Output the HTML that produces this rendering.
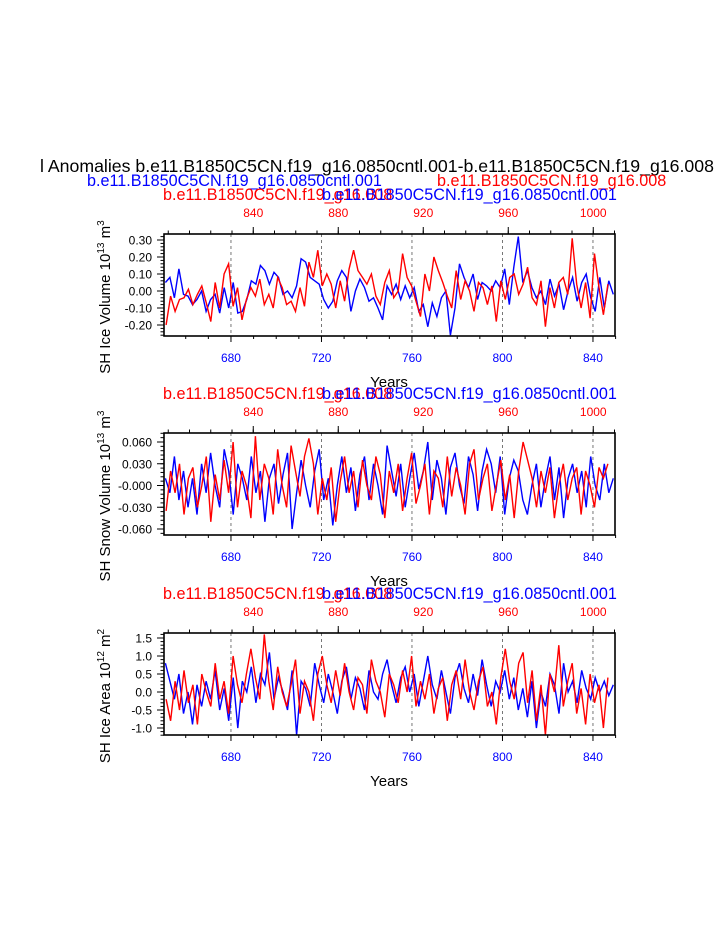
<!DOCTYPE html>
<html><head><meta charset="utf-8"><style>
html,body{margin:0;padding:0;background:#fff;}
svg{display:block;font-family:"Liberation Sans",Helvetica,sans-serif;}
</style></head><body>
<svg id="chart" width="723" height="935" viewBox="0 0 723 935" xmlns="http://www.w3.org/2000/svg">
<text x="40" y="172" font-size="17.7" fill="#000">l Anomalies b.e11.B1850C5CN.f19_g16.0850cntl.001-b.e11.B1850C5CN.f19_g16.008</text>
<text x="87" y="186" font-size="16.2" fill="#0000ff">b.e11.B1850C5CN.f19_g16.0850cntl.001</text>
<text x="437" y="186" font-size="16.2" fill="#ff0000">b.e11.B1850C5CN.f19_g16.008</text>
</svg>
<script>
const blueYears0=651, blueStep=2, redYears0=799, redStep=2.1;
const topTicks=[840,880,920,960,1000];
const bottomTicks=[680,720,760,800,840];
const iceVolBlue=[0.05,0.08,-0.04,0.13,-0.02,-0.03,-0.08,-0.05,0.0,-0.12,-0.05,-0.02,-0.13,0.02,-0.10,0.05,-0.13,-0.12,-0.05,0.06,0.04,0.15,0.12,0.04,0.11,0.08,-0.02,0.0,-0.04,0.03,0.19,0.17,0.08,0.06,0.04,-0.05,-0.10,-0.06,0.06,0.12,0.08,-0.12,0.0,0.07,0.02,-0.06,-0.04,-0.10,-0.17,0.03,-0.02,0.04,-0.05,0.03,-0.04,0.02,-0.12,-0.08,-0.21,-0.07,-0.15,-0.04,0.0,-0.26,-0.10,0.16,0.08,0.02,0.10,-0.05,0.05,0.03,0.00,0.06,0.02,0.13,-0.08,0.14,0.32,0.05,0.12,0.02,-0.04,0.00,-0.08,0.07,-0.03,0.04,-0.11,0.00,0.08,-0.06,0.05,0.10,-0.04,-0.12,0.08,-0.10,0.06,-0.02];
const iceVolRed=[-0.20,-0.03,-0.12,-0.05,-0.04,0.01,-0.08,-0.02,0.03,-0.07,-0.18,0.05,-0.10,0.10,0.16,-0.09,0.02,-0.17,-0.05,0.02,-0.03,0.07,-0.08,-0.02,-0.10,0.08,0.02,-0.08,-0.06,-0.12,0.02,-0.09,0.17,0.08,0.24,0.03,0.10,0.04,-0.10,0.06,-0.06,0.13,0.24,0.12,0.08,0.04,0.10,-0.03,-0.08,0.05,0.12,-0.04,0.00,0.22,0.08,0.03,-0.06,-0.15,0.10,0.00,0.20,0.12,0.05,-0.03,-0.10,0.12,-0.05,0.06,0.00,-0.12,0.05,0.02,-0.08,0.03,-0.18,0.06,-0.05,0.08,0.10,-0.02,0.04,0.14,-0.04,-0.08,0.06,-0.21,0.02,-0.10,0.05,0.08,-0.02,0.31,0.04,-0.10,0.05,-0.16,0.22,0.02,-0.14,0.04];
const snowBlue=[0.010,-0.010,0.040,-0.020,0.020,-0.030,0.010,-0.040,0.030,-0.010,0.045,0.000,-0.030,0.050,0.020,-0.040,0.030,0.010,-0.020,0.040,-0.010,0.020,-0.050,0.010,0.030,-0.025,0.015,0.045,-0.060,-0.010,0.035,0.000,-0.030,0.020,0.050,-0.020,0.010,-0.055,0.000,0.040,-0.010,0.025,-0.035,0.015,0.040,-0.020,0.030,0.000,-0.040,0.055,0.020,-0.015,0.030,-0.030,0.010,0.045,-0.005,0.020,0.060,-0.020,0.035,0.010,-0.040,0.025,0.045,0.000,-0.025,0.040,0.015,-0.035,0.020,0.050,0.030,-0.010,0.040,-0.040,0.010,0.035,0.020,-0.020,-0.040,0.000,0.030,-0.030,0.010,0.040,-0.020,0.025,-0.045,0.010,0.030,-0.010,0.020,-0.030,0.040,0.000,-0.020,0.030,-0.010,0.010];
const snowRed=[-0.035,0.020,-0.010,0.030,-0.040,0.010,0.025,-0.030,0.000,0.040,-0.050,0.015,-0.020,0.035,-0.010,0.060,-0.030,0.020,0.000,-0.045,0.068,-0.020,0.030,0.010,-0.040,0.050,0.000,-0.030,0.055,0.020,-0.015,0.040,0.065,0.030,-0.040,0.010,-0.020,0.025,-0.050,0.005,0.040,-0.010,0.020,-0.030,0.035,0.000,-0.020,0.040,0.015,-0.045,0.020,-0.010,0.030,-0.035,0.010,0.045,-0.025,0.000,0.030,-0.040,0.020,0.010,-0.030,0.040,-0.015,0.025,0.000,-0.040,0.030,0.050,-0.020,0.010,0.030,-0.035,0.000,0.035,-0.020,0.015,-0.045,0.020,0.060,0.035,0.010,-0.030,0.020,-0.010,0.025,-0.045,0.000,0.030,-0.020,0.010,0.025,-0.040,0.020,0.000,-0.030,0.025,0.010,0.030];
const areaBlue=[0.8,0.3,-0.2,0.5,-0.6,0.0,-0.9,0.2,-0.4,0.3,-0.2,0.6,-0.5,0.1,-0.8,0.4,-1.0,0.3,0.0,0.7,-0.3,0.5,0.2,1.1,-0.2,0.4,0.0,-0.5,0.6,-1.2,0.3,0.1,-0.4,0.8,0.2,-0.3,0.5,0.0,-0.6,0.3,0.7,-0.2,0.4,0.1,-0.5,0.6,0.0,-0.2,0.5,0.9,0.2,-0.3,0.4,0.7,0.0,0.5,-0.4,0.3,1.0,0.2,-0.2,0.6,0.0,-0.6,0.4,0.8,0.1,-0.3,0.5,-0.1,0.9,0.2,-0.4,0.3,0.0,0.6,-0.2,0.4,-0.5,0.1,-0.7,0.3,-1.0,0.0,-0.4,0.5,0.2,-0.6,0.8,0.0,0.3,-0.3,0.6,0.1,-0.2,0.4,0.0,0.3,-0.1,0.2];
const areaRed=[-0.2,-0.8,0.3,-0.5,0.6,-0.3,0.2,-0.9,0.5,0.0,-0.4,0.8,-0.2,0.3,-0.6,1.0,0.2,-0.3,0.5,1.2,0.4,-0.2,1.6,0.3,-0.5,0.7,0.0,-0.4,0.2,0.9,-0.6,0.3,0.0,-0.8,0.5,1.0,0.2,-0.3,0.6,-0.1,0.8,0.0,-0.5,0.4,0.2,-0.6,0.9,0.3,0.0,-0.7,0.5,0.2,-0.3,0.6,0.0,1.0,-0.4,0.3,-0.2,0.5,-0.6,0.1,0.4,-0.8,0.2,0.6,-0.2,0.9,0.0,-0.5,0.3,0.7,-0.4,0.0,-0.9,0.4,1.2,0.3,-0.2,0.8,1.1,-0.3,0.6,-0.8,0.2,-1.2,0.5,0.0,1.3,-0.4,0.3,0.8,-0.6,0.1,-0.9,0.5,-0.3,0.2,-1.0,0.4];
const yTicks1=[0.30,0.20,0.10,0.00,-0.10,-0.20], yLabels1=["0.30","0.20","0.10","0.00","-0.10","-0.20"];
const yTicks2=[0.06,0.03,0,-0.03,-0.06], yLabels2=["0.060","0.030","-0.000","-0.030","-0.060"];
const yTicks3=[1.5,1.0,0.5,0,-0.5,-1.0], yLabels3=["1.5","1.0","0.5","0.0","-0.5","-1.0"];

const NS="http://www.w3.org/2000/svg";
const svg=document.getElementById('chart');
function mk(t,a,p){const e=document.createElementNS(NS,t);for(const k in a)e.setAttribute(k,a[k]);(p||svg).appendChild(e);return e;}
const X0=164,X1=615;
const xBlue=yr=>X0+(yr-650.4)*2.2625;
const xRed=yr=>X0+(yr-798)*2.125;

const panels=[
 {top:234,bot:336,yv:v=>240+(0.30-v)*170,ticks:yTicks1,labels:yLabels1,minor:0.02,blue:iceVolBlue,red:iceVolRed,title:"SH Ice Volume 10",sup:"13",unit:" m",usup:"3",name:"ice-volume"},
 {top:433,bot:535,yv:v=>442+(0.06-v)*725,ticks:yTicks2,labels:yLabels2,minor:0.006,blue:snowBlue,red:snowRed,title:"SH Snow Volume 10",sup:"13",unit:" m",usup:"3",name:"snow-volume"},
 {top:633,bot:735,yv:v=>638+(1.5-v)*36,ticks:yTicks3,labels:yLabels3,minor:0.1,blue:areaBlue,red:areaRed,title:"SH Ice Area 10",sup:"12",unit:" m",usup:"2",name:"ice-area"}
];
panels.forEach((p,pi)=>{
 const g=mk('g',{});
 
 
 const cp=mk('clipPath',{id:'cp'+pi},g);
 mk('rect',{x:X0,y:p.top,width:X1-X0,height:p.bot-p.top},cp);
 const ty=pi>0?p.top-34:200;
 const t1=mk('text',{x:163,y:ty,'font-size':16.2,fill:'#ff0000'},g);t1.textContent='b.e11.B1850C5CN.f19_g16.008';
 
 
 const t2=mk('text',{x:322,y:ty,'font-size':16.2,fill:'#0000ff'},g);t2.textContent='b.e11.B1850C5CN.f19_g16.0850cntl.001';
 
 
 bottomTicks.forEach(t=>{const x=xBlue(t);
  const l=mk('line',{x1:x,x2:x,y1:p.top,y2:p.bot,stroke:'#555','stroke-width':0.8,'stroke-dasharray':'3,3'},g);
  
  
  mk('line',{x1:x,x2:x,y1:p.bot,y2:p.bot+6,stroke:'#000'},g);
  const tl=mk('text',{x:x,y:p.bot+26,'font-size':12,fill:'#0000ff','text-anchor':'middle'},g);tl.textContent=t;
  
  
 });
 for(let yr=660;yr<=850;yr+=10){const x=xBlue(yr);mk('line',{x1:x,x2:x,y1:p.bot,y2:p.bot+3,stroke:'#000'},g);}
 topTicks.forEach(t=>{const x=xRed(t);
  mk('line',{x1:x,x2:x,y1:p.top,y2:p.top-7,stroke:'#000'},g);
  const tl=mk('text',{x:x,y:p.top-17,'font-size':12,fill:'#ff0000','text-anchor':'middle'},g);tl.textContent=t;
  
  
 });
 for(let yr=800;yr<=1010;yr+=10){const x=xRed(yr);mk('line',{x1:x,x2:x,y1:p.top,y2:p.top-3.5,stroke:'#000'},g);}
 p.ticks.forEach((v,i)=>{const y=p.yv(v);
  mk('line',{x1:X0,x2:X0-7,y1:y,y2:y,stroke:'#000'},g);
  const tl=mk('text',{x:X0-12,y:y+4.5,'font-size':12,fill:'#000','text-anchor':'end'},g);tl.textContent=p.labels[i];
  
  
 });
 const lo=p.ticks[p.ticks.length-1]-p.minor*10, hi=p.ticks[0]+p.minor*10;
 for(let v=lo;v<=hi;v+=p.minor){const y=p.yv(v);if(y>=p.top-0.5&&y<=p.bot+0.5)mk('line',{x1:X0,x2:X0-3.5,y1:y,y2:y,stroke:'#000'},g);}
 const bp=p.blue.map((v,i)=>xBlue(blueYears0+i*blueStep).toFixed(1)+','+p.yv(v).toFixed(1)).join(' ');
 const bl=mk('polyline',{points:bp,fill:'none',stroke:'#0000ff','stroke-width':1.4,'clip-path':'url(#cp'+pi+')'},g);
 
 
 const rp=p.red.map((v,i)=>xRed(redYears0+i*redStep).toFixed(1)+','+p.yv(v).toFixed(1)).join(' ');
 const rl=mk('polyline',{points:rp,fill:'none',stroke:'#ff0000','stroke-width':1.4,'clip-path':'url(#cp'+pi+')'},g);
 
 
 const fr=mk('rect',{x:X0,y:p.top,width:X1-X0,height:p.bot-p.top,fill:'none',stroke:'#000','stroke-width':1.6},g);
 
 
 const xt=mk('text',{x:389,y:p.bot+51,'font-size':15,fill:'#000','text-anchor':'middle'},g);xt.textContent='Years';
 
 
 const cy=(p.top+p.bot)/2+12;
 const yt=mk('text',{x:0,y:0,'font-size':15,fill:'#000','text-anchor':'middle',transform:'translate(110,'+cy+') rotate(-90)'},g);
 
 
 yt.appendChild(document.createTextNode(p.title));
 const s1=mk('tspan',{dy:-6,'font-size':10},yt);s1.textContent=p.sup;
 const s2=mk('tspan',{dy:6},yt);s2.textContent=p.unit;
 const s3=mk('tspan',{dy:-6,'font-size':10},yt);s3.textContent=p.usup;
});
</script>
</body></html>
